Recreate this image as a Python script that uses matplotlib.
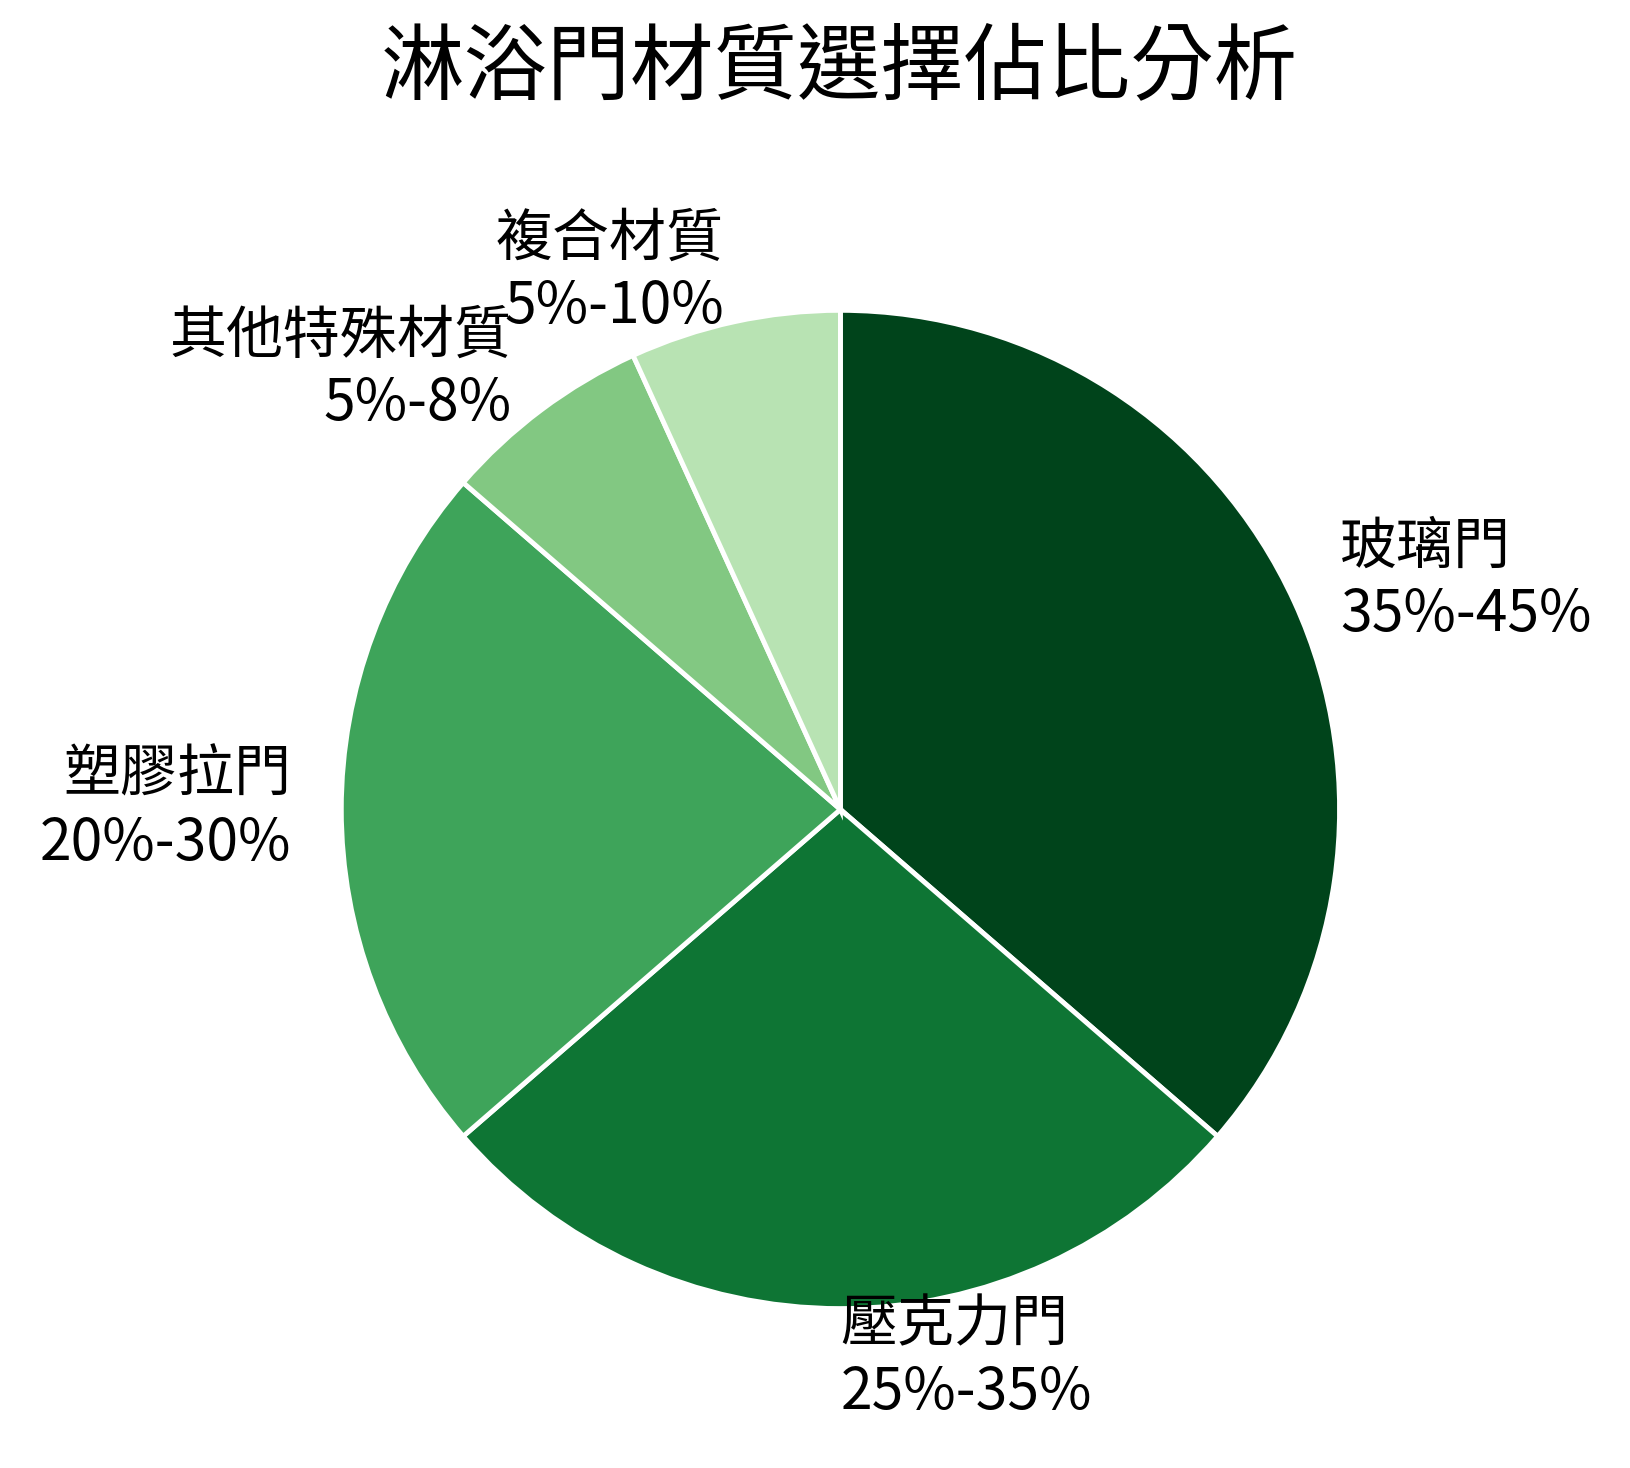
import matplotlib
matplotlib.use("Agg")
import matplotlib.pyplot as plt

plt.rcParams['font.family'] = ['Noto Sans CJK TC', 'DejaVu Sans']

# Data
labels = ["玻璃門", "壓克力門", "塑膠拉門", "其他特殊材質", "複合材質"]
ranges = ["35%-45%", "25%-35%", "20%-30%", "5%-8%", "5%-10%"]
values = [40, 30, 25, 7.5, 7.5]
colors = ["#00441b", "#0e7534", "#3ea45a", "#82c882", "#b8e3b3"]

fig = plt.figure(figsize=(16.3, 14.68), dpi=100)

# pie centre / radius as fractions of the figure
cx, cy, rw, rh = 0.5156, 0.4486, 0.3063, 0.340
ax = fig.add_axes([cx - rw, cy - rh, 2 * rw, 2 * rh])

texts_in = [f"{l}\n{v}" for l, v in zip(labels, ranges)]
wedges, texts = ax.pie(values, labels=texts_in, colors=colors, startangle=90,
                       counterclock=False, labeldistance=1.1,
                       wedgeprops=dict(edgecolor="white", linewidth=3.5),
                       textprops=dict(fontsize=41, linespacing=1.2))
# bottom label sits straight below the centre, left-aligned in the original
texts[1].set_ha("left")

ax.set_xlim(-1, 1)
ax.set_ylim(-1, 1)
ax.set_aspect("equal")
ax.axis("off")

fig.text(0.515, 0.954, "淋浴門材質選擇佔比分析", ha="center", va="center", fontsize=60)

fig.savefig("out.png", dpi=100)
